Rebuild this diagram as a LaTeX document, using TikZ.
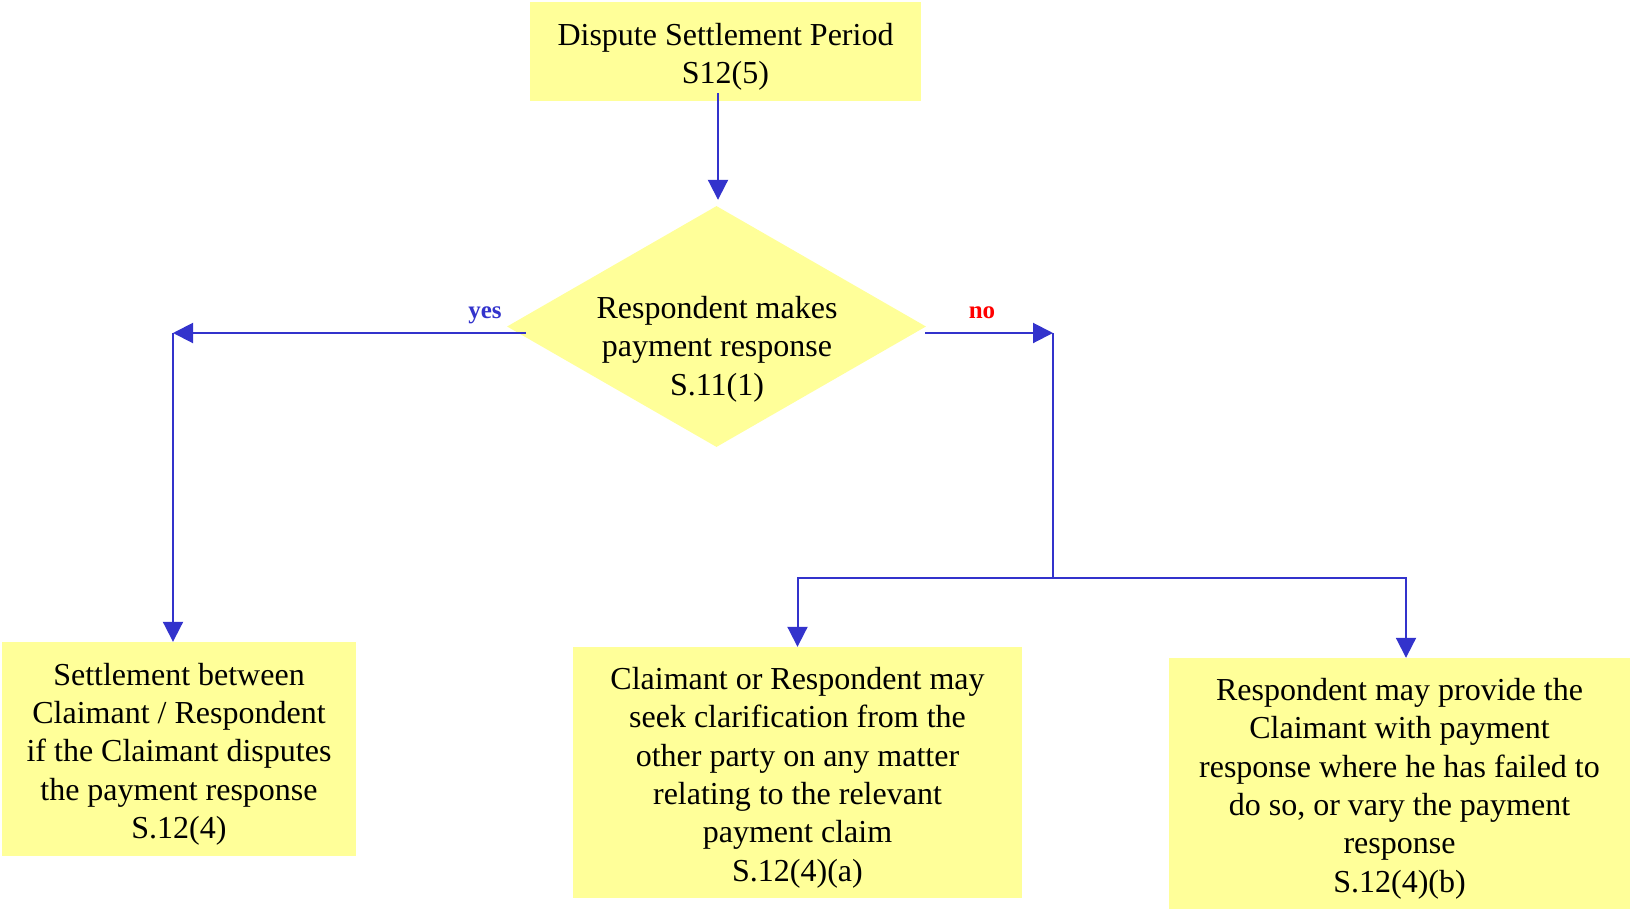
\documentclass[tikz,border=0pt]{standalone}
\usepackage{fontspec}
\setmainfont{Liberation Serif}
\usetikzlibrary{arrows.meta,shapes.geometric}
\definecolor{boxyellow}{HTML}{FFFF99}
\definecolor{flowblue}{HTML}{3333CC}
\definecolor{nored}{HTML}{FF0000}
% taller first line, so box text sits a little below the box centre
\newcommand{\firstgap}{\rule{0pt}{32.5pt}}
\begin{document}
\begin{tikzpicture}[x=1pt,y=-1pt,
  box/.style={rectangle, fill=boxyellow, inner sep=0pt, align=center,
    font=\fontsize{32}{38.3}\selectfont},
  decision/.style={diamond, fill=boxyellow, inner sep=0pt},
  bodytext/.style={inner sep=0pt, align=center, font=\fontsize{32}{38.3}\selectfont},
  flow/.style={draw=flowblue, line width=2pt},
  conn/.style={flow, -{Triangle[length=20pt,width=20pt]}},
  branchlabel/.style={inner sep=0pt, anchor=base, font=\fontsize{25}{30}\selectfont\bfseries}
]
\useasboundingbox (0,0) rectangle (1630,910);

% boxes
\node[box, minimum width=391pt, minimum height=99pt] (top) at (725.5,51.5)
  {\firstgap Dispute Settlement Period\\S12(5)};
\node[decision, minimum width=419pt, minimum height=241pt] (dec) at (716.5,326.5) {};
\node[bodytext] (dectext) at (717,349) {Respondent makes\hspace{8pt}\\payment response\\S.11(1)};
\node[box, minimum width=354pt, minimum height=214pt] (settle) at (179,749)
  {\firstgap Settlement between\\Claimant / Respondent\\if the Claimant disputes\\the payment response\\S.12(4)};
\node[box, minimum width=449pt, minimum height=251pt] (clar) at (797.5,772.5)
  {\firstgap Claimant or Respondent may\\seek clarification from the\\other party on any matter\\relating to the relevant\\payment claim\\S.12(4)(a)};
\node[box, minimum width=461pt, minimum height=251pt] (resp) at (1399.5,783.5)
  {\firstgap Respondent may provide the\\Claimant with payment\\response where he has failed to\\do so, or vary the payment\\response\\S.12(4)(b)};

% branch points
\coordinate (yc) at (173,333);
\coordinate (nc) at (1053,333);
\coordinate (split) at (1053,578);

% connectors
\draw[conn] ([shift={(-7.5,-8)}]top.south) -- ([shift={(1.5,-6)}]dec.north);
\draw[conn] ([shift={(19,6.5)}]dec.west) -- (yc);
\draw[conn] (yc) -- (yc |- settle.north);
\draw[conn] ([shift={(-1,6.5)}]dec.east) -- (nc);
\draw[flow] (nc) -- (split);
\draw[conn] (split) -| (clar.north);
\draw[conn] (split) -| ([xshift=6.5pt]resp.north);

% labels
\node[branchlabel, text=flowblue] (yeslbl) at (485,318) {yes};
\node[branchlabel, text=nored] (nolbl) at (982,318) {no};
\end{tikzpicture}
\end{document}
